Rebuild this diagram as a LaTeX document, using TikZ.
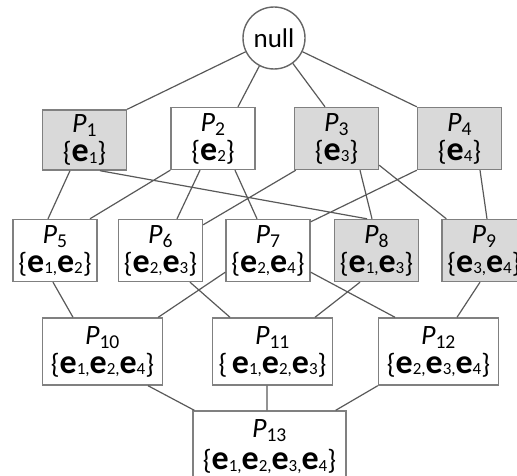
\documentclass[tikz,border=0pt]{standalone}
\usepackage{fontspec}
\setmainfont{Carlito}
\usepackage{tikz}
\def\pn#1{\textit{P}\textsubscript{#1}}
\def\ee#1{{\fontsize{34}{28}\selectfont\bfseries e}\raisebox{-1.5pt}{\fontsize{17}{17}\selectfont #1}}
\tikzstyle{set}=[draw=black!50,line width=1.4pt,fill=white,minimum width=84pt,minimum height=62pt,inner sep=0pt,align=center,font=\fontsize{28}{29}\selectfont]
\tikzstyle{hit}=[set,fill=black!15]
\tikzstyle{triple}=[set,minimum width=120pt,minimum height=67pt]
\tikzstyle{link}=[draw=black!65,line width=1.2pt]

\begin{document}
\begin{tikzpicture}[x=1pt,y=1pt]
    \clip (0,0) rectangle (517,475);
    \node[circle,draw=black!60,line width=1.4pt,minimum size=62pt,inner sep=0pt,font=\fontsize{27}{28}\selectfont] (null) at (274,437) {null};
    % one element
    \node[hit,minimum height=60pt] (p1) at (84.5,335) {\pn{1}\\\{\ee{1}\}};
    \node[set] (p2) at (213,336.5) {\pn{2}\\\{\ee{2}\}};
    \node[hit] (p3) at (336.5,336.5) {\pn{3}\\\{\ee{3}\}};
    \node[hit] (p4) at (459.5,336.5) {\pn{4}\\\{\ee{4}\}};
    % two elements
    \node[set] (p5) at (55,224.5) {\pn{5}\\\{\ee{1,}\ee{2}\}};
    \node[set] (p6) at (160.5,224.5) {\pn{6}\\\{\ee{2,}\ee{3}\}};
    \node[set] (p7) at (268,224.5) {\pn{7}\\\{\ee{2,}\ee{4}\}};
    \node[hit] (p8) at (376.5,224.5) {\pn{8}\\\{\ee{1,}\ee{3}\}};
    \node[hit] (p9) at (484,224.5) {\pn{9}\\\{\ee{3,}\ee{4}\}};
    % three elements
    \node[triple] (p10) at (102.5,123.5) {\pn{10}\\\{\ee{1,}\ee{2,}\ee{4}\}};
    \node[triple] (p11) at (272.5,123.5) {\pn{11}\\\{\,\ee{1,}\ee{2,}\ee{3}\}};
    \node[triple] (p12) at (438.5,123.5) {\pn{12}\\\{\ee{2,}\ee{3,}\ee{4}\}};
    \node[set,minimum width=153pt,minimum height=71pt] (p13) at (269.5,28.5) {\pn{13}\\[3pt]\{\ee{1,}\ee{2,}\ee{3,}\ee{4}\}};

    \path[link] (null) -- (p1.north east)
      (null) -- ([xshift=25pt]p2.north)
      (null) -- ([xshift=-11.5pt]p3.north)
      (null) -- (p4.north west);
    \path[link] ([xshift=-14.5pt]p1.south) -- ([xshift=-7pt]p5.north)
      ([xshift=15.5pt]p1.south) -- ([xshift=-9.5pt]p8.north)
      (p2.south west) -- ([xshift=35pt]p5.north)
      ([xshift=-13pt]p2.south) -- ([xshift=16.5pt]p6.north)
      ([xshift=22pt]p2.south) -- ([xshift=-11pt]p7.north)
      ([xshift=2pt]p3.south west) -- ([yshift=-6pt]p6.north east)
      ([xshift=23.5pt]p3.south) -- ([xshift=-4.5pt]p8.north)
      ([yshift=5pt]p3.south east) -- ([xshift=5pt]p9.north west)
      (p4.south west) -- ([yshift=-3pt]p7.north east)
      ([xshift=20.5pt]p4.south) -- ([xshift=3pt]p9.north);
    \path[link] ([xshift=-2pt]p5.south) -- ([xshift=-29.5pt]p10.north)
      ([yshift=10pt]p7.south west) -- ([xshift=-5pt]p10.north east)
      ([xshift=29.5pt]p6.south) -- ([xshift=-42.5pt]p11.north)
      ([xshift=-16.5pt]p8.south) -- ([xshift=42.5pt]p11.north)
      ([yshift=10pt]p7.south east) -- ([xshift=-43.5pt]p12.north)
      ([xshift=-4pt]p9.south) -- ([xshift=18.5pt]p12.north);
    \path[link] ([xshift=45.5pt]p10.south) -- ([xshift=2pt]p13.north west)
      ([xshift=-5.5pt]p11.south) -- ([xshift=-2.5pt]p13.north)
      (p12.south west) -- ([xshift=-11pt]p13.north east);
\end{tikzpicture}
\end{document}
